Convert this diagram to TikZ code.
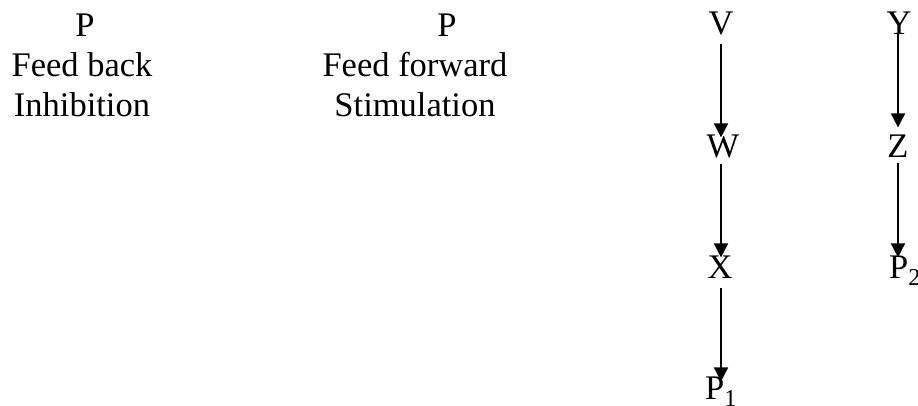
\documentclass[tikz,border=0pt]{standalone}
\usepackage{fontspec}
\setmainfont{Liberation Serif}
\usetikzlibrary{arrows.meta,positioning}

\begin{document}
\begin{tikzpicture}[x=1pt, y=-1pt,
        lbl/.style={inner sep=0pt, outer sep=0pt, anchor=base, font=\fontsize{34.5}{40}\selectfont},
        arr/.style={-{Triangle[length=14pt, width=14pt]}, line width=1.7pt}]
        \useasboundingbox (0,0) rectangle (918,406);
        \node (PA) [lbl] at (85, 37) {P};
        \node (FB) [lbl, align=center] at (82, 117) {Feed back\\Inhibition};
        \node (PB) [lbl] at (447, 37) {P};
        \node (FF) [lbl, align=center] at (415, 117) {Feed forward\\Stimulation};

        \node (V) [lbl] at (721, 35) {V};
        \node (W) [lbl] at (723, 158) {W};
        \node (X) [lbl] at (720, 278) {X};
        \node (P1) [lbl] at (721, 399) {P\textsubscript{1}};
        \node (Y) [lbl] at (899, 35) {Y};
        \node (Z) [lbl] at (898, 158) {Z};
        \node (P2) [lbl] at (905, 278) {P\textsubscript{2}};

        \draw[arr, shorten <=8pt, shorten >=-2pt] (V) -- (V |- W.north);
        \draw[arr, shorten <=5pt, shorten >=-2pt] (V |- W.south) -- (V |- X.north);
        \draw[arr, shorten <=10pt, shorten >=-5pt] (V |- X.south) -- (P1);
        \draw[arr, shorten <=-2pt, shorten >=8pt] (Y.south -| Z) -- (Z);
        \draw[arr, shorten <=5pt, shorten >=-2pt] (Z) -- (Z.south |- P2.north);
    \end{tikzpicture}
\end{document}
